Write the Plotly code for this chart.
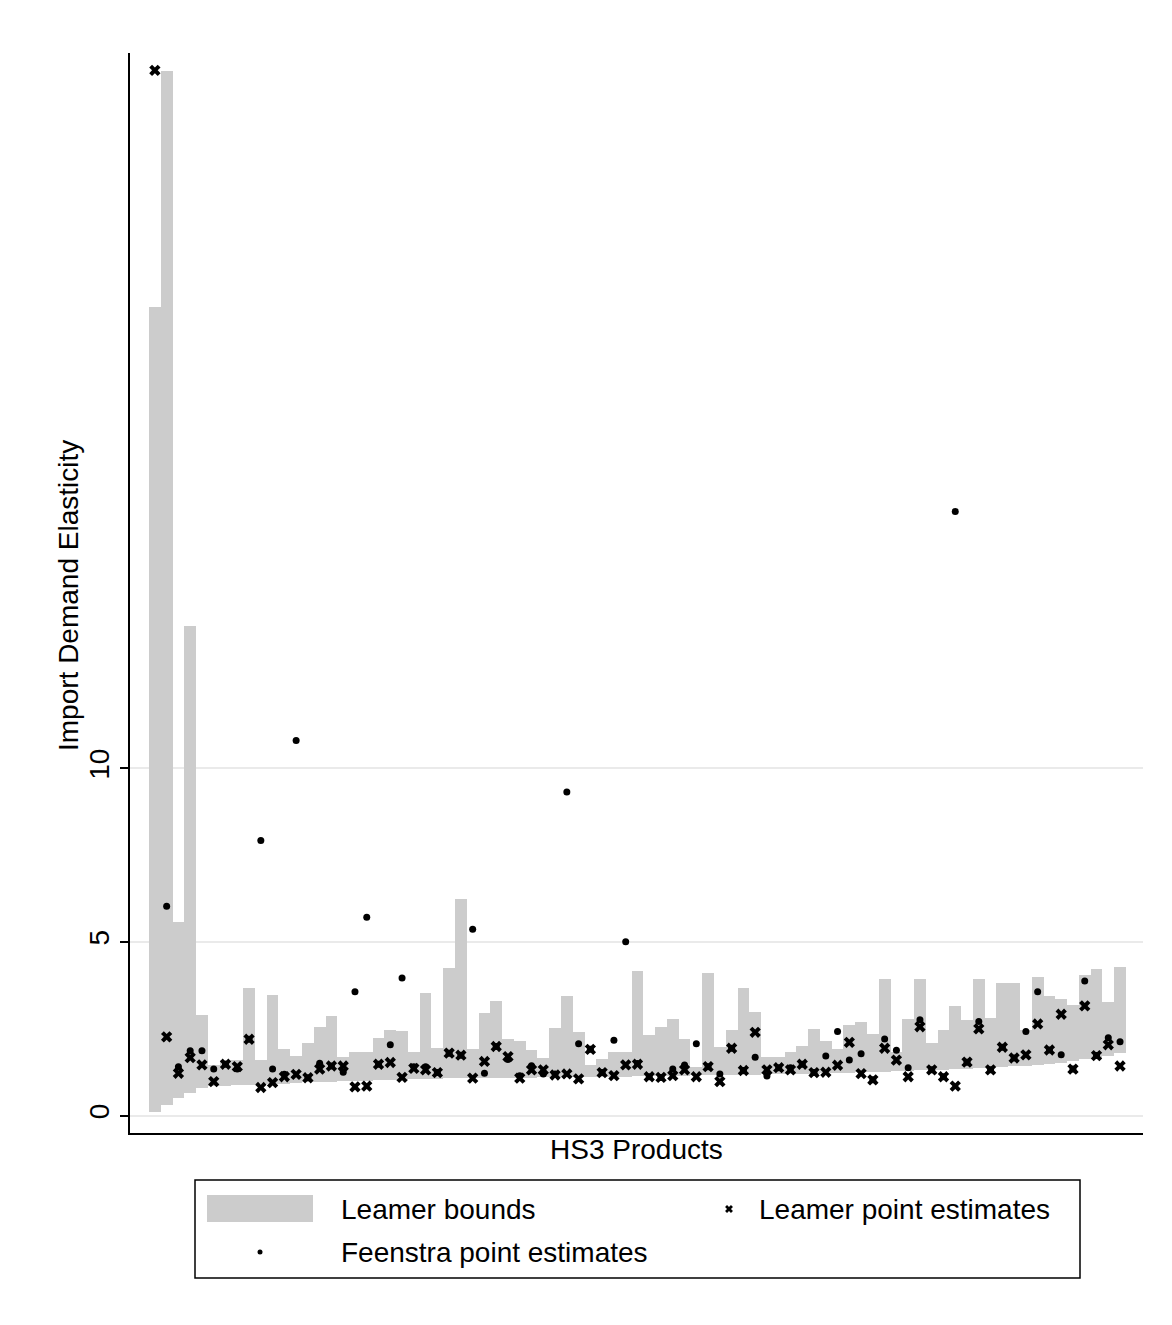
import plotly.graph_objects as go

# HS3 products, sorted by Leamer lower bound
products = list(range(1, 84))

lower = [
    0.115, 0.31, 0.50, 0.64, 0.79, 0.84, 0.86, 0.88, 0.89, 0.90,
    0.91, 0.92, 0.94, 0.96, 0.97, 0.98, 0.99, 1.00, 1.01, 1.02,
    1.03, 1.04, 1.05, 1.05, 1.06, 1.07, 1.07, 1.08, 1.08, 1.08,
    1.09, 1.09, 1.09, 1.10, 1.10, 1.10, 1.11, 1.11, 1.12, 1.12,
    1.12, 1.13, 1.14, 1.14, 1.15, 1.15, 1.16, 1.16, 1.17, 1.17,
    1.18, 1.18, 1.19, 1.19, 1.20, 1.20, 1.21, 1.22, 1.23, 1.24,
    1.25, 1.26, 1.27, 1.28, 1.29, 1.30, 1.31, 1.32, 1.33, 1.35,
    1.37, 1.39, 1.41, 1.42, 1.44, 1.47, 1.50, 1.53, 1.58, 1.62,
    1.66, 1.73, 1.79,
]

upper = [
    23.3, 30.08, 5.59, 14.1, 2.90, 1.46, 1.60, 1.60, 3.68, 1.60,
    3.48, 1.92, 1.72, 2.08, 2.56, 2.87, 1.68, 1.83, 1.82, 2.24,
    2.47, 2.44, 1.84, 3.54, 1.95, 4.26, 6.24, 1.92, 2.96, 3.30,
    2.21, 2.15, 1.89, 1.66, 2.53, 3.45, 2.41, 1.46, 1.63, 1.84,
    1.84, 4.17, 2.32, 2.56, 2.79, 2.21, 1.39, 4.11, 1.98, 2.47,
    3.68, 2.99, 1.69, 1.69, 1.84, 2.01, 2.50, 2.15, 1.92, 2.61,
    2.70, 2.35, 3.94, 1.84, 2.79, 3.94, 2.09, 2.47, 3.16, 2.76,
    3.94, 2.81, 3.82, 3.82, 2.47, 4.00, 3.45, 3.36, 3.19, 4.05,
    4.23, 3.28, 4.28,
]

leamer = [
    30.1, 2.27, 1.22, 1.67, 1.46, 0.98, 1.48, 1.41, 2.20, 0.81,
    0.95, 1.12, 1.19, 1.09, 1.34, 1.43, 1.43, 0.83, 0.85, 1.48,
    1.53, 1.10, 1.36, 1.32, 1.24, 1.80, 1.74, 1.08, 1.56, 1.99,
    1.70, 1.08, 1.32, 1.32, 1.17, 1.20, 1.06, 1.91, 1.24, 1.15,
    1.46, 1.48, 1.12, 1.10, 1.15, 1.32, 1.12, 1.41, 0.98, 1.94,
    1.30, 2.40, 1.32, 1.38, 1.32, 1.48, 1.24, 1.25, 1.45, 2.11,
    1.21, 1.03, 1.94, 1.60, 1.12, 2.56, 1.32, 1.12, 0.85, 1.54,
    2.50, 1.32, 1.97, 1.66, 1.75, 2.64, 1.89, 2.92, 1.34, 3.16,
    1.73, 2.04, 1.43,
]

feenstra = [
    None, 6.03, 1.41, 1.87, 1.87, 1.34, 1.48, 1.34, 2.20, 7.92,
    1.34, 1.19, 10.8, 1.09, 1.51, 1.43, 1.25, 3.57, 5.71, 1.48,
    2.04, 3.96, 1.41, 1.41, 1.24, 1.80, 1.74, 5.37, 1.22, 1.99,
    1.62, 1.15, 1.44, 1.20, 1.20, 9.32, 2.07, 1.91, 1.24, 2.17,
    5.01, 1.50, 1.12, 1.10, 1.34, 1.46, 2.07, 1.41, 1.20, 1.94,
    1.30, 1.68, 1.14, 1.38, 1.38, 1.48, 1.24, 1.72, 2.42, 1.60,
    1.78, 1.03, 2.21, 1.88, 1.38, 2.76, 1.32, 1.12, 17.4, 1.54,
    2.71, 1.32, 1.97, 1.66, 2.42, 3.57, 1.89, 1.75, 1.34, 3.88,
    1.73, 2.24, 2.13,
]

y_ticks = [0, 5, 10]

# the page body adds an 8px margin, so the figure is drawn 8px smaller
OFF = 8
W, H = 1172 - 2 * OFF, 1325 - 2 * OFF
FONT = "Arial, Liberation Sans, sans-serif"
GRAY = "#cccccc"


def px_x(v):
    return (v - OFF) / W


def px_y(v):
    return 1 - (v - OFF) / H


fig = go.Figure()

fig.add_trace(go.Bar(
    x=products,
    y=[u - l for u, l in zip(upper, lower)],
    base=lower,
    width=1.0,
    marker=dict(color=GRAY, line=dict(width=0)),
    showlegend=False,
    hoverinfo="skip",
))
fig.add_trace(go.Scatter(
    x=products, y=leamer, mode="markers",
    marker=dict(symbol="x", size=10, color="black", line=dict(width=0)),
    showlegend=False,
))
fig.add_trace(go.Scatter(
    x=products, y=feenstra, mode="markers",
    marker=dict(symbol="circle", size=7, color="black", line=dict(width=0)),
    showlegend=False,
))

# legend symbols live on a small hidden axis placed where the legend box is
LEG_X0, LEG_X1, LEG_Y0, LEG_Y1 = 195, 1080, 1180, 1278
fig.add_trace(go.Scatter(
    x=[729], y=[1209], mode="markers", xaxis="x2", yaxis="y2",
    marker=dict(symbol="x", size=7, color="black", line=dict(width=0)),
    showlegend=False, hoverinfo="skip",
))
fig.add_trace(go.Scatter(
    x=[260], y=[1252], mode="markers", xaxis="x2", yaxis="y2",
    marker=dict(symbol="circle", size=5, color="black", line=dict(width=0)),
    showlegend=False, hoverinfo="skip",
))

shapes = [
    dict(type="rect", xref="paper", yref="paper",
         x0=px_x(LEG_X0), x1=px_x(LEG_X1), y0=px_y(LEG_Y0), y1=px_y(LEG_Y1),
         line=dict(color="black", width=1.5), fillcolor="rgba(0,0,0,0)"),
    dict(type="rect", xref="paper", yref="paper",
         x0=px_x(207), x1=px_x(313), y0=px_y(1195), y1=px_y(1222),
         line=dict(width=0), fillcolor=GRAY),
]

annotations = [
    dict(text="Leamer bounds", x=px_x(339), y=px_y(1209), xref="paper", yref="paper",
         xanchor="left", yanchor="middle", showarrow=False,
         font=dict(size=28, color="black", family=FONT)),
    dict(text="Leamer point estimates", x=px_x(757), y=px_y(1209), xref="paper", yref="paper",
         xanchor="left", yanchor="middle", showarrow=False,
         font=dict(size=28, color="black", family=FONT)),
    dict(text="Feenstra point estimates", x=px_x(339), y=px_y(1252), xref="paper", yref="paper",
         xanchor="left", yanchor="middle", showarrow=False,
         font=dict(size=28, color="black", family=FONT)),
    dict(text="HS3 Products", x=px_x(636.5), y=px_y(1149), xref="paper", yref="paper",
         xanchor="center", yanchor="middle", showarrow=False,
         font=dict(size=28, color="black", family=FONT)),
    dict(text="Import Demand Elasticity", x=px_x(68), y=px_y(596), xref="paper", yref="paper",
         xanchor="center", yanchor="middle", showarrow=False, textangle=-90,
         font=dict(size=28, color="black", family=FONT)),
]

fig.update_layout(
    width=W, height=H,
    autosize=False,
    margin=dict(l=0, r=0, t=0, b=0),
    paper_bgcolor="white",
    plot_bgcolor="white",
    font=dict(family=FONT, size=28, color="black"),
    bargap=0,
    showlegend=False,
    xaxis=dict(
        domain=[px_x(130), px_x(1143)],
        range=[-1.114, 84.95],
        showticklabels=False, ticks="", showgrid=False, zeroline=False,
        showline=True, linecolor="black", linewidth=1.5,
    ),
    yaxis=dict(
        domain=[px_y(1133), px_y(53)],
        range=[-0.5, 30.6],
        tickvals=y_ticks, ticktext=[str(t) for t in y_ticks],
        tickangle=-90, ticks="outside", ticklen=8, tickwidth=1.5, tickcolor="black",
        tickfont=dict(size=28, family=FONT, color="black"),
        showgrid=True, gridcolor="#eaeaea", gridwidth=2, zeroline=False,
        showline=True, linecolor="black", linewidth=1.5,
    ),
    xaxis2=dict(domain=[px_x(LEG_X0), px_x(LEG_X1)], range=[LEG_X0, LEG_X1], visible=False, anchor="y2"),
    yaxis2=dict(domain=[px_y(LEG_Y1), px_y(LEG_Y0)], range=[LEG_Y1, LEG_Y0], visible=False, anchor="x2"),
    shapes=shapes,
    annotations=annotations,
)

fig.write_html("out.html")
